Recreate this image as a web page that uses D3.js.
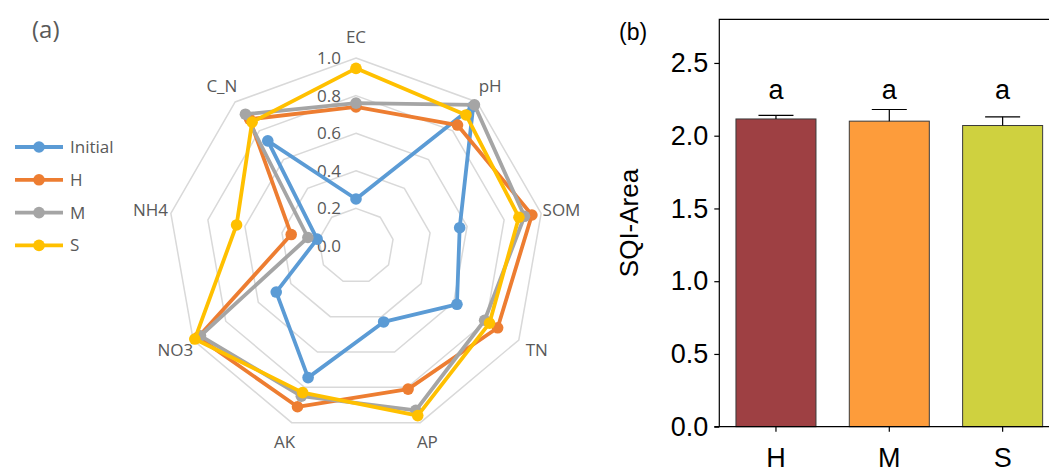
<!DOCTYPE html>
<html>
<head>
<meta charset="utf-8">
<script src="https://cdn.jsdelivr.net/npm/d3@7"></script>
<style>
  html, body { margin: 0; padding: 0; background: #fff; }
  svg { display: block; }
</style>
</head>
<body>
<svg id="chart" width="1049" height="472"></svg>
<script>
// ---- Radar panel (a): normalised soil indicators ----
const radarAxes = ["EC", "pH", "SOM", "TN", "AP", "AK", "NO3", "NH4", "C_N"];
const seriesNames = ["Initial", "H", "M", "S"];
const initialValues = [0.25, 0.97, 0.56, 0.62, 0.43, 0.745, 0.49, 0.21, 0.73];
const hValues       = [0.74, 0.84, 0.95, 0.87, 0.81, 0.91, 0.97, 0.35, 0.88];
const mValues       = [0.76, 0.98, 0.91, 0.79, 0.93, 0.85, 0.955, 0.26, 0.915];
const sValues       = [0.945, 0.91, 0.88, 0.82, 0.96, 0.83, 0.99, 0.645, 0.86];
const radarTicks = [0.2, 0.4, 0.6, 0.8, 1.0];
const radarTickLabels = ["0.0", "0.2", "0.4", "0.6", "0.8", "1.0"];

// ---- Bar panel (b): SQI-Area per treatment ----
const barCategories = ["H", "M", "S"];
const barValues = [2.115, 2.10, 2.07];
const barErrors = [0.025, 0.08, 0.06];
const barLetters = ["a", "a", "a"];
const barTicks = [0.0, 0.5, 1.0, 1.5, 2.0, 2.5];

const svg = d3.select("#chart");

// ================= Radar =================
const radarColors = ["#5B9BD5", "#ED7D31", "#A5A5A5", "#FFC000"];
const allSeries = [initialValues, hValues, mValues, sValues];
const cx = 356, cy = 246, R = 188;
const rScale = d3.scaleLinear().domain([0, 1]).range([0, R]);
const angle = d3.scalePoint().domain(radarAxes).range([0, 2 * Math.PI * (radarAxes.length - 1) / radarAxes.length]);

const radar = svg.append("g").attr("transform", `translate(${cx},${cy})`);
const pt = (cat, v) => {
  const a = angle(cat);
  return [rScale(v) * Math.sin(a), -rScale(v) * Math.cos(a)];
};

// grid rings
radar.append("g").selectAll("polygon").data(radarTicks).join("polygon")
  .attr("points", t => radarAxes.map(c => pt(c, t).join(",")).join(" "))
  .attr("fill", "none")
  .attr("stroke", "#D9D9D9")
  .attr("stroke-width", 1.5);

// value labels along the vertical axis
radar.append("g").selectAll("text").data(radarTickLabels).join("text")
  .attr("x", -15)
  .attr("y", (d, i) => -rScale(i * 0.2))
  .attr("dy", "0.35em")
  .attr("text-anchor", "end")
  .attr("font-family", "'Open Sans', sans-serif")
  .attr("font-size", 17)
  .attr("fill", "#595959")
  .text(d => d);

// category labels
radar.append("g").selectAll("text").data(radarAxes).join("text")
  .attr("x", c => pt(c, 1.11)[0])
  .attr("y", c => pt(c, 1.11)[1])
  .attr("dy", "0.35em")
  .attr("text-anchor", "middle")
  .attr("font-family", "'Open Sans', sans-serif")
  .attr("font-size", 17)
  .attr("fill", "#595959")
  .text(c => c);

// series lines and markers
const lineGen = d3.lineRadial()
  .angle((d, i) => angle(radarAxes[i]))
  .radius(d => rScale(d))
  .curve(d3.curveLinearClosed);

allSeries.forEach((vals, si) => {
  const g = radar.append("g");
  g.append("path")
    .attr("d", lineGen(vals))
    .attr("fill", "none")
    .attr("stroke", radarColors[si])
    .attr("stroke-width", 3.8)
    .attr("stroke-linejoin", "round");
  g.selectAll("circle").data(vals).join("circle")
    .attr("cx", (v, i) => pt(radarAxes[i], v)[0])
    .attr("cy", (v, i) => pt(radarAxes[i], v)[1])
    .attr("r", 5.8)
    .attr("fill", radarColors[si]);
});

// legend
const legend = svg.append("g").attr("transform", "translate(15,147)");
const legRow = legend.selectAll("g").data(seriesNames).join("g")
  .attr("transform", (d, i) => `translate(0,${i * 32.8})`);
legRow.append("line")
  .attr("x1", 0).attr("x2", 48).attr("y1", 0).attr("y2", 0)
  .attr("stroke", (d, i) => radarColors[i])
  .attr("stroke-width", 3.8);
legRow.append("circle")
  .attr("cx", 24).attr("cy", 0).attr("r", 5.8)
  .attr("fill", (d, i) => radarColors[i]);
legRow.append("text")
  .attr("x", 55).attr("y", 0).attr("dy", "0.35em")
  .attr("font-family", "'Open Sans', sans-serif")
  .attr("font-size", 17)
  .attr("fill", "#595959")
  .text(d => d);

svg.append("text")
  .attr("x", 32).attr("y", 38)
  .attr("font-family", "'Open Sans', sans-serif")
  .attr("font-size", 24)
  .attr("fill", "#595959")
  .text("(a)");

// ================= Bars =================
const barFills = ["#9E4043", "#FD9C3B", "#CFD13F"];
const plotLeft = 719.3, plotTop = 19.3, plotBottom = 426.7, plotRight = 1059.3;
const y = d3.scaleLinear().domain([0, 2.8]).range([plotBottom, plotTop]);
const x = d3.scaleBand().domain(barCategories).range([plotLeft, plotRight])
  .paddingInner(0.294).paddingOuter(0.147);

const bars = svg.append("g");
bars.selectAll("rect.bar").data(barValues).join("rect")
  .attr("class", "bar")
  .attr("x", (d, i) => x(barCategories[i]))
  .attr("y", d => y(d))
  .attr("width", x.bandwidth())
  .attr("height", d => y(0) - y(d))
  .attr("fill", (d, i) => barFills[i])
  .attr("stroke", "#3a3a3a")
  .attr("stroke-width", 1);

// upper error bars
const errG = bars.append("g").attr("stroke", "#000").attr("stroke-width", 1.2);
barValues.forEach((v, i) => {
  const xc = x(barCategories[i]) + x.bandwidth() / 2;
  errG.append("line").attr("x1", xc).attr("x2", xc).attr("y1", y(v)).attr("y2", y(v + barErrors[i]));
  errG.append("line").attr("x1", xc - 17.5).attr("x2", xc + 17.5).attr("y1", y(v + barErrors[i])).attr("y2", y(v + barErrors[i]));
});

// significance letters
bars.selectAll("text.sig").data(barLetters).join("text")
  .attr("class", "sig")
  .attr("x", (d, i) => x(barCategories[i]) + x.bandwidth() / 2)
  .attr("y", 99)
  .attr("text-anchor", "middle")
  .attr("font-family", "'Liberation Sans', Arial, sans-serif")
  .attr("font-size", 27)
  .attr("fill", "#000")
  .text(d => d);

// frame
svg.append("path")
  .attr("d", `M${plotLeft},${plotBottom}V${plotTop}H${plotRight + 10}`)
  .attr("fill", "none").attr("stroke", "#000").attr("stroke-width", 1.2);

// y axis
const yAxis = svg.append("g")
  .attr("transform", `translate(${plotLeft},0)`)
  .call(d3.axisLeft(y).tickValues(barTicks).tickFormat(d3.format(".1f")).tickSize(5).tickPadding(6));
yAxis.select(".domain").remove();
yAxis.selectAll("line").attr("stroke", "#000").attr("stroke-width", 1.2);
yAxis.selectAll("text")
  .attr("font-family", "'Liberation Sans', Arial, sans-serif")
  .attr("font-size", 27)
  .attr("fill", "#000");

// x axis
const xAxis = svg.append("g")
  .attr("transform", `translate(0,${plotBottom})`)
  .call(d3.axisBottom(x).tickSize(5).tickPadding(16));
xAxis.select(".domain").attr("d", `M${plotLeft - 5},0H${plotRight + 10}`).attr("stroke", "#000").attr("stroke-width", 1.2);
xAxis.selectAll("line").attr("stroke", "#000").attr("stroke-width", 1.2);
xAxis.selectAll("text")
  .attr("font-family", "'Liberation Sans', Arial, sans-serif")
  .attr("font-size", 27)
  .attr("fill", "#000");

svg.append("text")
  .attr("transform", `translate(638,${(plotTop + plotBottom) / 2}) rotate(-90)`)
  .attr("text-anchor", "middle")
  .attr("font-family", "'Liberation Sans', Arial, sans-serif")
  .attr("font-size", 26)
  .attr("fill", "#000")
  .text("SQI-Area");

svg.append("text")
  .attr("x", 619).attr("y", 40)
  .attr("font-family", "'Liberation Sans', Arial, sans-serif")
  .attr("font-size", 23)
  .attr("fill", "#000")
  .text("(b)");
</script>
</body>
</html>
